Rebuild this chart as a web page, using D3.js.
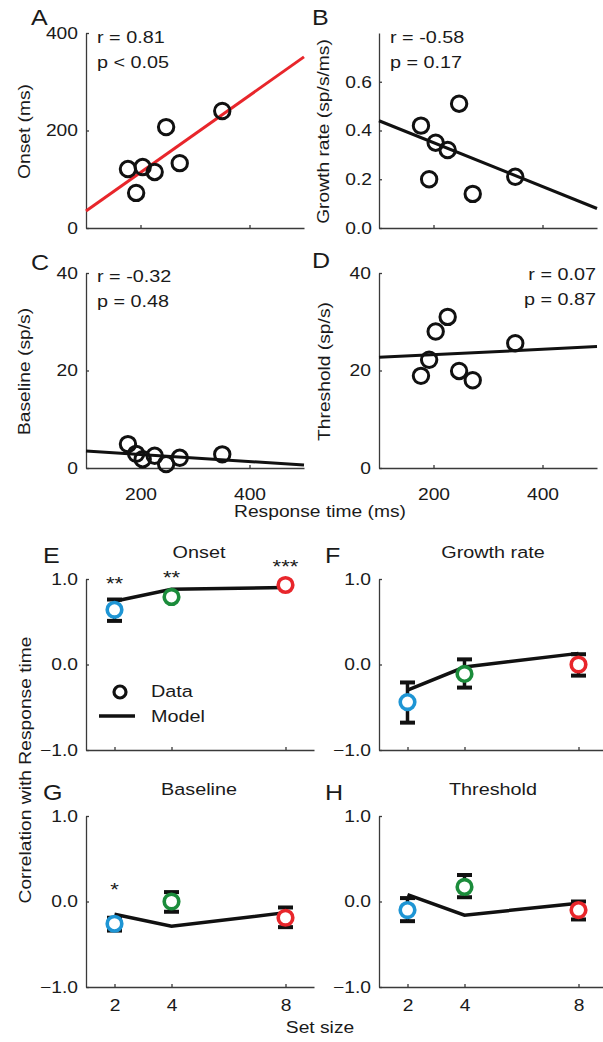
<!DOCTYPE html>
<html><head><meta charset="utf-8">
<script src="https://cdn.jsdelivr.net/npm/d3@7"></script>
<style>body{margin:0;background:#fff}svg{display:block}</style>
</head><body><svg id="c" width="603" height="1042"></svg>
<script>
// ---------- data ----------
const responseTime  = [177, 192, 204, 226, 247, 272, 350];
const onsetMs       = [121, 72, 125, 115, 207, 133, 240];
const growthRate    = [0.42, 0.20, 0.35, 0.32, 0.51, 0.14, 0.21];
const baselineRate  = [4.9, 2.9, 1.8, 2.5, 0.8, 2.1, 2.8];
const thresholdRate = [18.9, 22.2, 28.0, 31.0, 19.9, 18.0, 25.6];

const fitX         = [100, 500];
const fitOnset     = [35, 351];
const fitGrowth    = [0.44, 0.08];
const fitBaseline  = [3.5, 0.6];
const fitThreshold = [22.7, 24.9];

const statsOnset     = ["r = 0.81", "p < 0.05"];
const statsGrowth    = ["r = -0.58", "p = 0.17"];
const statsBaseline  = ["r = -0.32", "p = 0.48"];
const statsThreshold = ["r = 0.07", "p = 0.87"];

const rtTicks     = [200, 400];
const onsetTicks  = [0, 200, 400];
const growthTicks = [0, 0.2, 0.4, 0.6];
const rateTicks   = [0, 20, 40];

const setSizes  = [2, 4, 8];
const corrTicks = [-1, 0, 1];

const onsetCorr   = [0.64, 0.79, 0.93];
const onsetLo     = [0.51, 0.76, 0.91];
const onsetHi     = [0.76, 0.82, 0.95];
const onsetModel  = [0.74, 0.88, 0.90];
const onsetSig    = ["**", "**", "***"];

const growthCorr  = [-0.44, -0.11, 0.00];
const growthLo    = [-0.68, -0.27, -0.13];
const growthHi    = [-0.21, 0.06, 0.12];
const growthModel = [-0.30, -0.03, 0.13];
const growthSig   = ["", "", ""];

const baseCorr    = [-0.26, 0.00, -0.19];
const baseLo      = [-0.34, -0.12, -0.30];
const baseHi      = [-0.19, 0.11, -0.07];
const baseModel   = [-0.15, -0.29, -0.13];
const baseSig     = ["*", "", ""];

const threshCorr  = [-0.10, 0.17, -0.10];
const threshLo    = [-0.23, 0.05, -0.21];
const threshHi    = [0.04, 0.31, 0.00];
const threshModel = [0.08, -0.16, -0.02];
const threshSig   = ["", "", ""];

// ---------- style ----------
const SX = 1.165;
const FS = 16.5;
const FONT = "'Liberation Sans', Arial, Helvetica, sans-serif";
const TXT = "#1a1a1a";
const AX = "#3a3a3a";
const setColors = ["#1e95d4", "#1b8c3b", "#e8262b"];

const svg = d3.select("#c").attr("font-family", FONT);
svg.append("rect").attr("width", 603).attr("height", 1042).attr("fill", "#fff");

function txt(parent, x, y, s, o = {}) {
  return parent.append("text")
    .attr("transform", `translate(${x},${y})` + (o.rot ? ` rotate(${o.rot})` : "") + ` scale(${SX},1)`)
    .attr("text-anchor", o.anchor || "start")
    .attr("font-size", o.size || FS)
    .attr("fill", o.fill || TXT)
    .text(s);
}

function styleAxis(g) {
  g.attr("font-family", FONT).attr("font-size", FS);
  g.select(".domain").attr("stroke", AX).attr("stroke-width", 1.3);
  g.selectAll(".tick line").attr("stroke", AX).attr("stroke-width", 1.3);
  g.selectAll(".tick text").attr("fill", TXT).each(function () {
    const t = d3.select(this);
    const x = +t.attr("x") || 0;
    t.attr("x", x / SX).attr("transform", `scale(${SX},1)`);
  });
}

// ---------- scatter panels A-D ----------
function scatter(cfg) {
  const W = 218, H = 195;
  const x = d3.scaleLinear().domain([100, 500]).range([cfg.left, cfg.left + W]);
  const y = d3.scaleLinear().domain(cfg.yDomain).range([cfg.top + H, cfg.top]);
  const g = svg.append("g");

  const ya = g.append("g").attr("transform", `translate(${cfg.left},0)`)
    .call(d3.axisLeft(y).tickValues(cfg.yTicks).tickFormat(d3.format(cfg.fmt))
      .tickSizeInner(-3).tickSizeOuter(0).tickPadding(cfg.ypad || 8));
  styleAxis(ya);
  const xa = g.append("g").attr("transform", `translate(0,${cfg.top + H})`)
    .call(d3.axisBottom(x).tickValues(rtTicks)
      .tickFormat(cfg.xLabels ? d3.format("d") : () => "")
      .tickSizeInner(-3).tickSizeOuter(0).tickPadding(20));
  styleAxis(xa);

  g.append("line")
    .attr("x1", x(fitX[0])).attr("y1", y(cfg.fit[0]))
    .attr("x2", x(fitX[1])).attr("y2", y(cfg.fit[1]))
    .attr("stroke", cfg.fitColor).attr("stroke-width", 3);

  g.selectAll("circle.pt").data(responseTime).join("circle")
    .attr("class", "pt")
    .attr("cx", d => x(d)).attr("cy", (d, i) => y(cfg.vals[i]))
    .attr("r", 7.7).attr("fill", "none").attr("stroke", "#111").attr("stroke-width", 3);

  txt(g, cfg.statX, cfg.statY, cfg.stats[0], { anchor: cfg.statAnchor, size: 17 });
  txt(g, cfg.statX, cfg.statY + 25, cfg.stats[1], { anchor: cfg.statAnchor, size: 17 });
  txt(g, cfg.letterX, cfg.letterY, cfg.letter, { size: 21.5 });
  txt(g, cfg.ylabX, cfg.top + H / 2 + 1, cfg.ylabel, { rot: -90, anchor: "middle" });
}

scatter({ left: 86, top: 33, yDomain: [0, 400], yTicks: onsetTicks, fmt: "d", vals: onsetMs,
  fit: fitOnset, fitColor: "#e8262b", stats: statsOnset, statX: 97, statY: 43,
  letter: "A", letterX: 31, letterY: 25, ylabel: "Onset (ms)", ylabX: 30 });
scatter({ left: 379, top: 33, yDomain: [0, 0.8], yTicks: growthTicks, fmt: ".1f", vals: growthRate, ypad: 7,
  fit: fitGrowth, fitColor: "#111", stats: statsGrowth, statX: 390, statY: 43,
  letter: "B", letterX: 312, letterY: 25, ylabel: "Growth rate (sp/s/ms)", ylabX: 329 });
scatter({ left: 86, top: 273, yDomain: [0, 40], yTicks: rateTicks, fmt: "d", vals: baselineRate,
  fit: fitBaseline, fitColor: "#111", stats: statsBaseline, statX: 97, statY: 282, xLabels: true,
  letter: "C", letterX: 31, letterY: 270, ylabel: "Baseline (sp/s)", ylabX: 30 });
scatter({ left: 379, top: 273, yDomain: [0, 40], yTicks: rateTicks, fmt: "d", vals: thresholdRate,
  fit: fitThreshold, fitColor: "#111", stats: statsThreshold, statX: 596, statY: 280, statAnchor: "end", xLabels: true,
  letter: "D", letterX: 312, letterY: 268, ylabel: "Threshold (sp/s)", ylabX: 330 });

txt(svg, 320, 517, "Response time (ms)", { anchor: "middle" });

// ---------- correlation panels E-H ----------
function corr(cfg) {
  const W = 228, H = 171;
  const x = d3.scaleLinear().domain([1, 9]).range([cfg.left, cfg.left + W]);
  const y = d3.scaleLinear().domain([-1, 1]).range([cfg.top + H, cfg.top]);
  const g = svg.append("g");

  const ya = g.append("g").attr("transform", `translate(${cfg.left},0)`)
    .call(d3.axisLeft(y).tickValues(corrTicks).tickFormat(d3.format(".1f"))
      .tickSizeInner(-3).tickSizeOuter(0).tickPadding(8));
  styleAxis(ya);
  const xa = g.append("g").attr("transform", `translate(0,${cfg.top + H})`)
    .call(d3.axisBottom(x).tickValues(setSizes)
      .tickFormat(cfg.xLabels ? d3.format("d") : () => "")
      .tickSizeInner(-3).tickSizeOuter(0).tickPadding(12));
  styleAxis(xa);

  g.append("path").datum(setSizes)
    .attr("d", d3.line().x(d => x(d)).y((d, i) => y(cfg.model[i])))
    .attr("fill", "none").attr("stroke", "#111").attr("stroke-width", 3.5);

  const eb = g.selectAll("g.eb").data(setSizes).join("g").attr("class", "eb");
  eb.append("line").attr("x1", d => x(d)).attr("x2", d => x(d))
    .attr("y1", (d, i) => y(cfg.lo[i])).attr("y2", (d, i) => y(cfg.hi[i]))
    .attr("stroke", "#111").attr("stroke-width", 3.5);
  eb.append("line").attr("x1", d => x(d) - 7.5).attr("x2", d => x(d) + 7.5)
    .attr("y1", (d, i) => y(cfg.lo[i])).attr("y2", (d, i) => y(cfg.lo[i]))
    .attr("stroke", "#111").attr("stroke-width", 4);
  eb.append("line").attr("x1", d => x(d) - 7.5).attr("x2", d => x(d) + 7.5)
    .attr("y1", (d, i) => y(cfg.hi[i])).attr("y2", (d, i) => y(cfg.hi[i]))
    .attr("stroke", "#111").attr("stroke-width", 4);

  g.selectAll("circle.pt").data(setSizes).join("circle").attr("class", "pt")
    .attr("cx", d => x(d)).attr("cy", (d, i) => y(cfg.vals[i]))
    .attr("r", 7.3).attr("fill", "#fff")
    .attr("stroke", (d, i) => setColors[i]).attr("stroke-width", 3.6);

  setSizes.forEach((d, i) => {
    if (cfg.sig[i]) txt(g, x(d), y(cfg.hi[i]) - cfg.sigOff + 10, cfg.sig[i], { anchor: "middle", size: 19 });
  });

  txt(g, cfg.titleX, cfg.top - 21, cfg.title, { anchor: "middle", size: 17 });
  txt(g, cfg.letterX, cfg.top - 16, cfg.letter, { size: 21.5 });
  return { x, y, g };
}

corr({ left: 86, top: 579, vals: onsetCorr, lo: onsetLo, hi: onsetHi, model: onsetModel,
  sig: onsetSig, sigOff: 20, title: "Onset", titleX: 199, letter: "E", letterX: 43 });
corr({ left: 379, top: 579, vals: growthCorr, lo: growthLo, hi: growthHi, model: growthModel,
  sig: growthSig, sigOff: 20, title: "Growth rate", titleX: 493, letter: "F", letterX: 325 });
corr({ left: 86, top: 816, vals: baseCorr, lo: baseLo, hi: baseHi, model: baseModel, xLabels: true,
  sig: baseSig, sigOff: 32, title: "Baseline", titleX: 199, letter: "G", letterX: 43 });
corr({ left: 379, top: 816, vals: threshCorr, lo: threshLo, hi: threshHi, model: threshModel, xLabels: true,
  sig: threshSig, sigOff: 20, title: "Threshold", titleX: 493, letter: "H", letterX: 325 });

// legend in E
const lg = svg.append("g");
lg.append("circle").attr("cx", 120).attr("cy", 692).attr("r", 6).attr("fill", "none")
  .attr("stroke", "#111").attr("stroke-width", 3.2);
lg.append("line").attr("x1", 99).attr("x2", 135).attr("y1", 716).attr("y2", 716)
  .attr("stroke", "#111").attr("stroke-width", 3.5);
txt(lg, 151, 697, "Data", { size: 17 });
txt(lg, 151, 722, "Model", { size: 17 });

txt(svg, 320, 1033, "Set size", { anchor: "middle" });
txt(svg, 31, 770, "Correlation with Response time", { rot: -90, anchor: "middle" });
</script></body></html>
